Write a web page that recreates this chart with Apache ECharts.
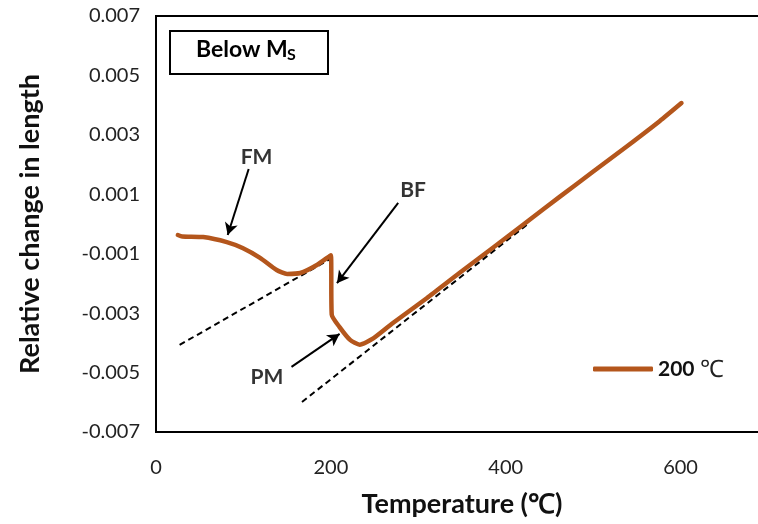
<!DOCTYPE html>
<html>
<head>
<meta charset="utf-8">
<script src="https://cdn.jsdelivr.net/npm/echarts@6/dist/echarts.min.js"></script>
<style>html,body{margin:0;padding:0;background:#fff}#c{width:758px;height:524px}</style>
</head>
<body>
<div id="c"></div>
<script>
// Temperature (°C)
var temps = [25, 30, 54, 81, 99, 119, 138, 150, 165, 184, 200, 201, 210, 222, 233, 248, 271, 310, 347, 385, 424, 462, 499, 538, 576, 601];
// Relative change in length
var rel = [-0.00037, -0.00042, -0.00044, -0.00061, -0.00081, -0.00114, -0.00155, -0.00168, -0.00165, -0.00138, -0.00105, -0.00305, -0.00347, -0.00390, -0.00406, -0.00386, -0.00333, -0.00249, -0.00165, -0.00081, 0.00007, 0.00092, 0.00174, 0.00260, 0.00346, 0.00407];
// dashed tangent lines
var tan1T = [27, 199];
var tan1V = [-0.00407, -0.00118];
var tan2T = [167, 424];
var tan2V = [-0.00599, -0.00003];
// tick labels
var xTicks = [0, 200, 400, 600];
var yTicks = [-0.007, -0.005, -0.003, -0.001, 0.001, 0.003, 0.005, 0.007];
var seriesName = '200 ℃';

var curve = temps.map(function (t, i) { return [t, rel[i]]; });
var t1 = tan1T.map(function (t, i) { return [t, tan1V[i]]; });
var t2 = tan2T.map(function (t, i) { return [t, tan2V[i]]; });

// annotation arrows (data coordinates)
var arrowData = [
  [{coord: [106, 0.00185]}, {coord: [82, -0.00037]}],
  [{coord: [277, 0.00071]}, {coord: [207, -0.00199]}],
  [{coord: [155, -0.00481]}, {coord: [210, -0.00370]}]
];
var labelData = [
  {name: 'FM', value: [115, 0.00225]},
  {name: 'BF', value: [294, 0.00114]},
  {name: 'PM', value: [127, -0.00515]}
];

var FONT = 'Lato';
var chart = echarts.init(document.getElementById('c'), null, {renderer: 'canvas'});
chart.setOption({
  animation: false,
  backgroundColor: '#fff',
  grid: {
    left: 156, top: 16, right: -10, bottom: 92,
    containLabel: false, outerBoundsMode: 'none',
    show: true, borderColor: '#000', borderWidth: 2, backgroundColor: 'transparent'
  },
  xAxis: {
    type: 'value', min: 0, max: 700, interval: 200,
    name: 'Temperature (℃)', nameLocation: 'middle', nameGap: 59,
    nameTextStyle: {fontFamily: FONT, fontWeight: 'bold', fontSize: 27, color: '#111'},
    axisLine: {show: true, onZero: false, lineStyle: {color: '#000', width: 2}},
    axisTick: {show: false},
    splitLine: {show: false},
    axisLabel: {
      fontFamily: FONT, fontSize: 20, color: '#222', margin: 26,
      formatter: function (v) { return xTicks.indexOf(v) >= 0 ? String(v) : ''; }
    }
  },
  yAxis: {
    type: 'value', min: -0.007, max: 0.007, interval: 0.001,
    name: 'Relative change in length', nameLocation: 'middle', nameGap: 112,
    nameTextStyle: {fontFamily: FONT, fontWeight: 'bold', fontSize: 27, color: '#111'},
    axisLine: {show: true, onZero: false, lineStyle: {color: '#000', width: 2}},
    axisTick: {show: false},
    splitLine: {show: false},
    axisLabel: {
      fontFamily: FONT, fontSize: 20, color: '#222', margin: 16,
      formatter: function (v) {
        var k = Math.round(v * 1000);
        for (var i = 0; i < yTicks.length; i++) {
          if (Math.round(yTicks[i] * 1000) === k) return yTicks[i].toFixed(3);
        }
        return '';
      }
    }
  },
  legend: {
    data: [seriesName],
    left: 588, top: 352,
    icon: 'roundRect', itemWidth: 60, itemHeight: 5,
    textStyle: {
      fontFamily: FONT, fontSize: 20, color: '#111',
      rich: {
        b: {fontFamily: FONT, fontSize: 21, fontWeight: 'bold', color: '#111'},
        n: {fontFamily: FONT, fontSize: 24, color: '#222'}
      }
    },
    formatter: function () { return '{b|200} {n|℃}'; }
  },
  graphic: [
    {type: 'rect', left: 169, top: 30, shape: {width: 158, height: 43},
     style: {fill: '#fff', stroke: '#000', lineWidth: 2}, z: 100},
    {type: 'text', left: 196, top: 38, z: 101,
     style: {text: 'Below M', fontFamily: FONT, fontSize: 23, fontWeight: 'bold', fill: '#000'}},
    {type: 'text', left: 287, top: 47, z: 101,
     style: {text: 'S', fontFamily: FONT, fontSize: 16, fontWeight: 'bold', fill: '#000'}}
  ],
  series: [
    {name: 'tan1', type: 'line', data: t1, symbol: 'none', silent: true,
     lineStyle: {color: '#000', width: 2, type: [6, 4]}, z: 1},
    {name: 'tan2', type: 'line', data: t2, symbol: 'none', silent: true,
     lineStyle: {color: '#000', width: 2, type: [6, 4]}, z: 1},
    {name: seriesName, type: 'line', data: curve, symbol: 'none', smooth: 0.2,
     color: '#b4561c', lineStyle: {color: '#b4561c', width: 4.5, cap: 'round', join: 'round'}, z: 3},
    {name: 'ann', type: 'scatter', data: labelData, symbolSize: 1, silent: true,
     itemStyle: {color: 'transparent'},
     label: {show: true, position: 'inside', formatter: '{b}', fontFamily: FONT, fontSize: 21, fontWeight: 'bold', color: '#000'},
     markLine: {
       silent: true, symbol: ['none', 'arrow'], symbolSize: [10, 12],
       label: {show: false},
       lineStyle: {color: '#000', width: 2, type: 'solid'},
       data: arrowData
     }, z: 4}
  ]
});
</script>
</body>
</html>
